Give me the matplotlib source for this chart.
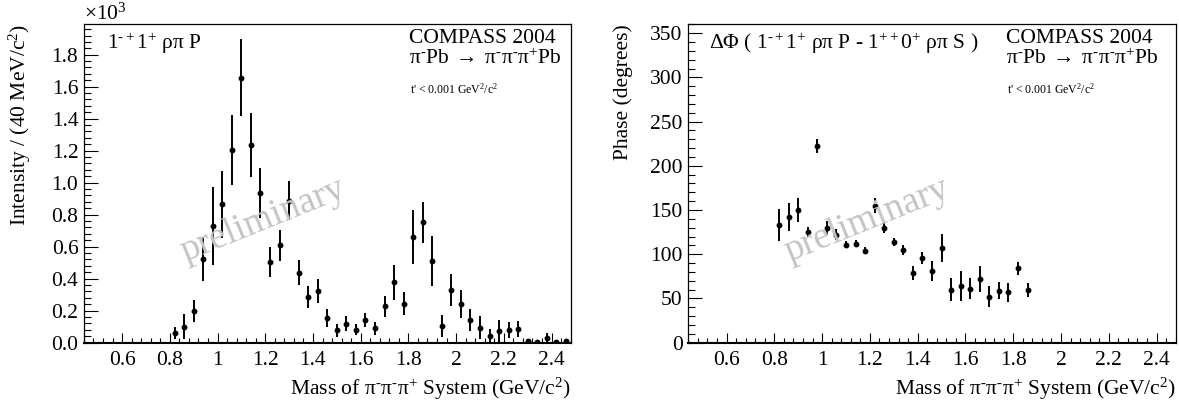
import numpy as np
import matplotlib
matplotlib.use("Agg")
import matplotlib.pyplot as plt
from matplotlib.ticker import MultipleLocator, FuncFormatter

plt.rcParams['font.family'] = ['Liberation Serif', 'DejaVu Serif']
plt.rcParams['mathtext.fontset'] = 'custom'
plt.rcParams['mathtext.rm'] = 'Liberation Serif'
plt.rcParams['mathtext.it'] = 'Liberation Serif:italic'
plt.rcParams['mathtext.bf'] = 'Liberation Serif:bold'
plt.rcParams['mathtext.default'] = 'regular'

# --- intensity of the 1-+1+ rho pi P wave (events per 40 MeV/c^2) ---
mass_int = [0.82, 0.86, 0.90, 0.94, 0.98, 1.02, 1.06, 1.10, 1.14, 1.18,
            1.22, 1.26, 1.30, 1.34, 1.38, 1.42, 1.46, 1.50, 1.54, 1.58,
            1.62, 1.66, 1.70, 1.74, 1.78, 1.82, 1.86, 1.90, 1.94, 1.98,
            2.02, 2.06, 2.10, 2.14, 2.18, 2.22, 2.26, 2.30, 2.34, 2.38,
            2.42, 2.46]
intensity = [61, 100, 198, 523, 731, 865, 1206, 1656, 1236, 934,
             506, 609, 888, 438, 286, 323, 156, 77, 119, 81,
             142, 90, 227, 377, 244, 661, 752, 511, 103, 329,
             242, 142, 94, 44, 73, 79, 86, 9, 5, 32,
             2, 10]
intensity_err = [38, 78, 66, 140, 245, 210, 220, 240, 200, 155,
                 94, 96, 120, 80, 67, 78, 56, 40, 46, 33,
                 44, 40, 67, 110, 73, 170, 130, 155, 67, 100,
                 90, 70, 70, 40, 70, 50, 50, 8, 5, 28,
                 3, 8]

# --- phase difference to 1++0+ rho pi S (degrees) ---
mass_phase = [0.82, 0.86, 0.90, 0.94, 0.98, 1.02, 1.06, 1.10, 1.14, 1.18,
              1.22, 1.26, 1.30, 1.34, 1.38, 1.42, 1.46, 1.50, 1.54, 1.58,
              1.62, 1.66, 1.70, 1.74, 1.78, 1.82, 1.86]
phase = [133, 142, 150, 125, 222, 130, 122, 111, 112, 104,
         155, 130, 114, 105, 79, 96, 81, 107, 60, 64,
         61, 72, 52, 59, 57, 84, 60]
phase_err = [18, 16, 14, 6, 8, 8, 6, 4, 4, 4,
             8.5, 6.5, 4.5, 6, 8, 7, 11, 16, 13, 16.5,
             12, 15, 12, 10, 11, 7.5, 8]

x_ticks = [0.6, 0.8, 1.0, 1.2, 1.4, 1.6, 1.8, 2.0, 2.2, 2.4]
x_tick_labels = ['0.6', '0.8', '1', '1.2', '1.4', '1.6', '1.8', '2', '2.2', '2.4']

FS = 15.5
GRAY = '#c4c4c4'
M = "\u2010"  # short hyphen for superscript charges, as in the original

fig = plt.figure(figsize=(11.79, 4.01), dpi=100)
ax1 = fig.add_axes([0.0712, 0.1454, 0.4128, 0.794])
ax2 = fig.add_axes([0.5838, 0.1454, 0.4134, 0.794])

reaction = f"π$^{{{M}}}$Pb$\\;\\rightarrow\\;$π$^{{{M}}}$π$^{{{M}}}$π$^{{+}}$Pb"
tcut = "t' < 0.001 GeV$^{2}$/c$^{2}$"


def style_axes(ax):
    ax.set_xlim(0.44, 2.48)
    ax.set_xticks(x_ticks)
    ax.set_xticklabels(x_tick_labels)
    ax.xaxis.set_minor_locator(MultipleLocator(0.04))
    ax.tick_params(axis='x', which='major', direction='in', length=7.2, width=0.8,
                   labelsize=FS, pad=6, top=False)
    ax.tick_params(axis='x', which='minor', direction='in', length=3.6, width=0.8, top=False)
    ax.tick_params(axis='y', which='major', direction='in', length=10, width=0.8,
                   labelsize=FS, pad=4, right=False)
    ax.tick_params(axis='y', which='minor', direction='in', length=5, width=0.8, right=False)
    for s in ax.spines.values():
        s.set_linewidth(0.9)
    ax.spines['bottom'].set_linewidth(1.5)
    ax.set_xlabel(f"Mass of π$^{{{M}}}$π$^{{{M}}}$π$^{{+}}$ System (GeV/c$^{{2}}$)",
                  fontsize=FS, loc='right')
    ax.xaxis.set_label_coords(1.0, -0.105)


# left panel: intensity
ax1.errorbar(mass_int, intensity, yerr=intensity_err, fmt='o', color='black',
             markersize=3.2, elinewidth=1.4, capsize=0)
style_axes(ax1)
ax1.set_ylim(0, 1990)
ax1.yaxis.set_major_locator(MultipleLocator(200))
ax1.yaxis.set_minor_locator(MultipleLocator(40))
ax1.yaxis.set_major_formatter(FuncFormatter(lambda v, p: f"{v / 1000:.1f}"))
ax1.set_ylabel("Intensity / (40 MeV/c$^{2}$)", fontsize=FS, loc='top')
ax1.yaxis.set_label_coords(-0.105, 1.0)
fig.text(0.0712, 0.950, "×10$^{3}$", fontsize=FS, ha='left', va='baseline')

ax1.text(0.047, 0.922, f"1$^{{{M}+}}$1$^{{+}}$ ρπ P", transform=ax1.transAxes,
         fontsize=FS, ha='left', va='baseline')
ax1.text(0.668, 0.940, "COMPASS 2004", transform=ax1.transAxes,
         fontsize=FS, ha='left', va='baseline')
ax1.text(0.668, 0.875, reaction, transform=ax1.transAxes,
         fontsize=FS, ha='left', va='baseline')
ax1.text(0.670, 0.781, tcut, transform=ax1.transAxes,
         fontsize=8.5, ha='left', va='baseline')

# right panel: phase
ax2.errorbar(mass_phase, phase, yerr=phase_err, fmt='o', color='black',
             markersize=3.2, elinewidth=1.4, capsize=0)
style_axes(ax2)
ax2.set_ylim(0, 360)
ax2.yaxis.set_major_locator(MultipleLocator(50))
ax2.yaxis.set_minor_locator(MultipleLocator(10))
ax2.set_ylabel("Phase (degrees)", fontsize=FS, loc='top')
ax2.yaxis.set_label_coords(-0.113, 1.0)

ax2.text(0.043, 0.922, f"ΔΦ ( 1$^{{{M}+}}$1$^{{+}}$ ρπ P - 1$^{{++}}$0$^{{+}}$ ρπ S )",
         transform=ax2.transAxes, fontsize=FS, ha='left', va='baseline')
ax2.text(0.652, 0.940, "COMPASS 2004", transform=ax2.transAxes,
         fontsize=FS, ha='left', va='baseline')
ax2.text(0.652, 0.875, reaction, transform=ax2.transAxes,
         fontsize=FS, ha='left', va='baseline')
ax2.text(0.654, 0.781, tcut, transform=ax2.transAxes,
         fontsize=8.5, ha='left', va='baseline')

# "preliminary" watermarks
for xc in (0.223, 0.735):
    fig.text(xc, 0.450, "preliminary", fontsize=27, color=GRAY, rotation=22,
             ha='center', va='center', rotation_mode='anchor', zorder=0)

fig.savefig("out.png", dpi=100)
